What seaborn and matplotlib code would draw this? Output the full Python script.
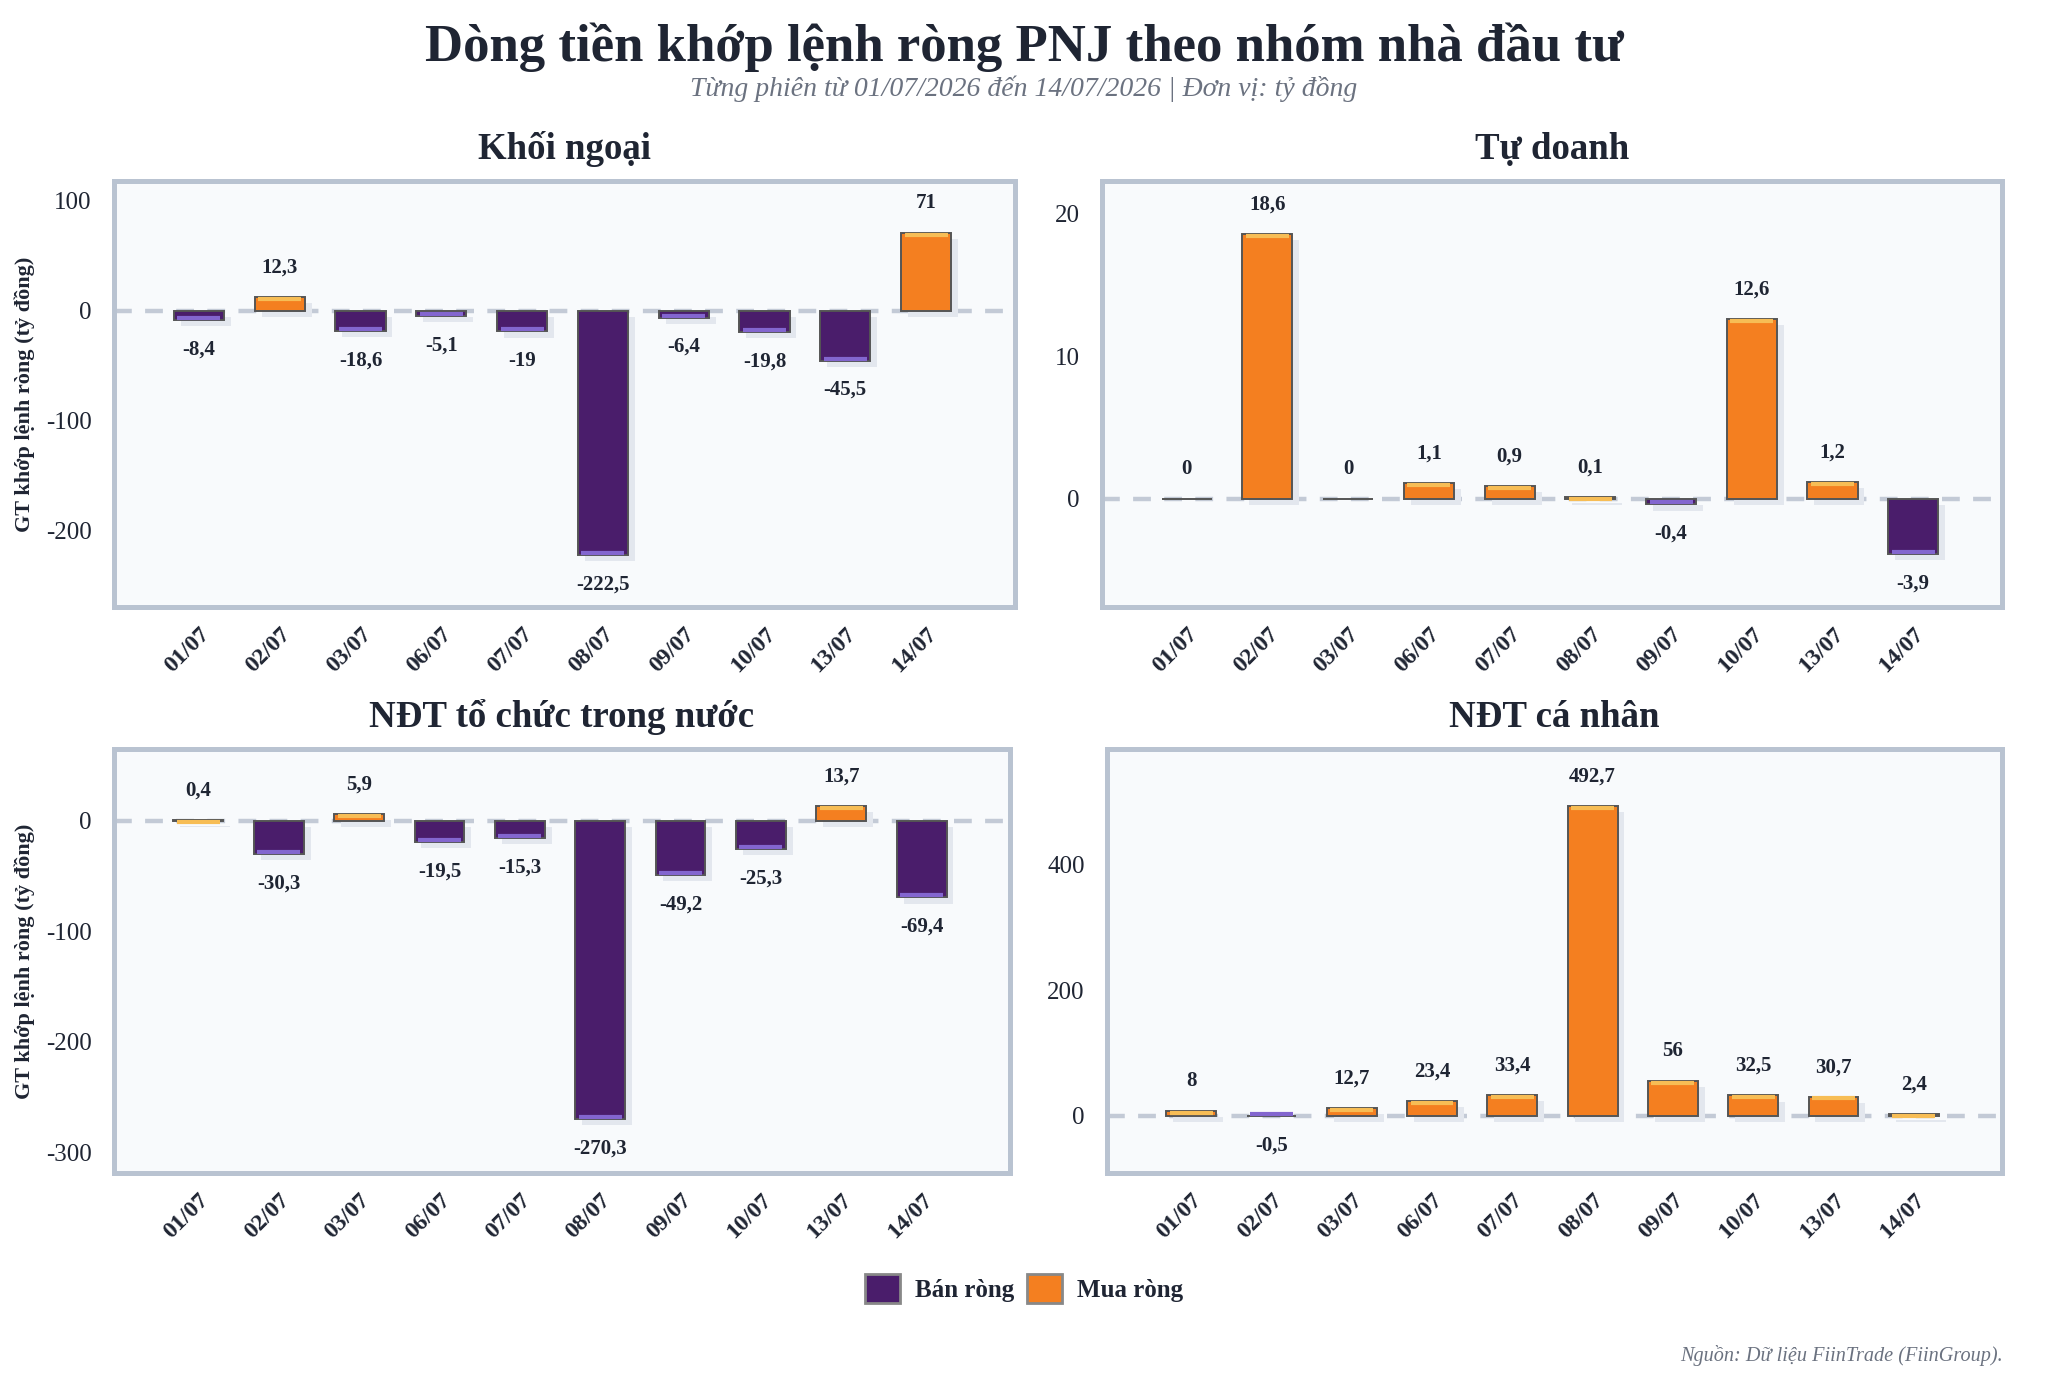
import numpy as np
import pandas as pd
import matplotlib
matplotlib.use("Agg")
import matplotlib.pyplot as plt
import matplotlib.patheffects as pe
import matplotlib.transforms as mtransforms
from matplotlib.patches import Patch
import seaborn as sns

# du lieu
dates = ["01/07", "02/07", "03/07", "06/07", "07/07", "08/07", "09/07", "10/07", "13/07", "14/07"]
khoi_ngoai = [-8.4, 12.3, -18.6, -5.1, -19.0, -222.5, -6.4, -19.8, -45.5, 71.0]
tu_doanh = [0.0, 18.6, 0.0, 1.1, 0.9, 0.1, -0.4, 12.6, 1.2, -3.9]
to_chuc = [0.4, -30.3, 5.9, -19.5, -15.3, -270.3, -49.2, -25.3, 13.7, -69.4]
ca_nhan = [8.0, -0.5, 12.7, 23.4, 33.4, 492.7, 56.0, 32.5, 30.7, 2.4]

panels = ["Khối ngoại", "Tự doanh", "NĐT tổ chức trong nước", "NĐT cá nhân"]
series = [khoi_ngoai, tu_doanh, to_chuc, ca_nhan]
ylims = [(-270, 118), (-7.6, 22.3), (-319, 65), (-91, 584)]
yticks = [[-200, -100, 0, 100], [0, 10, 20], [-300, -200, -100, 0], [0, 200, 400]]

PURPLE = "#4a1d6b"
ORANGE = "#f47f20"
PURPLE_LT = "#8366cf"
ORANGE_LT = "#f7bd55"

sns.set_theme(style="white")
plt.rcParams["font.family"] = ["Liberation Serif", "DejaVu Serif"]
plt.rcParams["axes.unicode_minus"] = False

fig = plt.figure(figsize=(10.24, 6.9), dpi=200)
W, H = 2048, 1380
boxes = [(114, 181, 1015, 607), (1102, 181, 2002, 607),
         (114, 749, 1010, 1173), (1107, 749, 2002, 1173)]


def fmt(v):
    s = f"{v:.1f}".replace(".", ",")
    if s.endswith(",0"):
        s = s[:-2]
    if s == "-0":
        s = "0"
    return s


for i, (name, vals) in enumerate(zip(panels, series)):
    x0, y0, x1, y1 = boxes[i]
    ax = fig.add_axes([x0 / W, 1 - y1 / H, (x1 - x0) / W, (y1 - y0) / H])
    df = pd.DataFrame({"date": dates, "value": vals})
    df["loai"] = np.where(df["value"] < 0, "Bán ròng", "Mua ròng")

    ax.axhline(0, color="#c3cad6", lw=1.6, ls=(0, (4, 3)), zorder=1)
    sns.barplot(data=df, x="date", y="value", hue="loai",
                palette={"Bán ròng": PURPLE, "Mua ròng": ORANGE}, saturation=1,
                hue_order=["Bán ròng", "Mua ròng"], dodge=False, width=0.62,
                edgecolor="#555555", linewidth=0.7, legend=False, ax=ax, zorder=3)

    for p in ax.patches:
        p.set_path_effects([pe.SimplePatchShadow(offset=(2.5, -2.2), shadow_rgbFace="#e3e7ee", alpha=1.0), pe.Normal()])

    # vien sang o dau cot
    for p in ax.patches:
        h = p.get_height()
        if h == 0 or np.isnan(h):
            continue
        xl = p.get_x()
        w = p.get_width()
        col = ORANGE_LT if h > 0 else PURPLE_LT
        off = -0.7 if h > 0 else 0.7
        tr = mtransforms.offset_copy(ax.transData, fig=fig, y=off, units="points")
        ax.plot([xl + w * 0.07, xl + w * 0.93], [h, h], color=col, lw=1.5,
                solid_capstyle="butt", transform=tr, zorder=4)

    for k, v in enumerate(vals):
        if v >= 0:
            ax.annotate(fmt(v), (k, v), xytext=(0, 7), textcoords="offset points",
                        ha="center", va="bottom", fontsize=7.5, fontweight="bold", color="#1f2533")
        else:
            ax.annotate(fmt(v), (k, v), xytext=(0, -7), textcoords="offset points",
                        ha="center", va="top", fontsize=7.5, fontweight="bold", color="#1f2533")

    ax.set_facecolor("#f8fafc")
    for s in ax.spines.values():
        s.set_visible(True)
        s.set_color("#b9c3d1")
        s.set_linewidth(1.8)
    ax.set_ylim(*ylims[i])
    ax.set_xlim(-1.05, 10.1)
    ax.set_yticks(yticks[i])
    ax.tick_params(axis="y", labelsize=9, colors="#1f2533", length=0, pad=8)
    ax.tick_params(axis="x", labelsize=8.5, colors="#1f2533", length=0, pad=6)
    for lab in ax.get_xticklabels():
        lab.set_rotation(45)
        lab.set_ha("right")
        lab.set_rotation_mode("anchor")
        lab.set_fontweight("bold")
    ax.set_xlabel("")
    if i % 2 == 0:
        ax.set_ylabel("GT khớp lệnh ròng (tỷ đồng)", fontsize=8, fontweight="bold", color="#1f2533")
    else:
        ax.set_ylabel("")
    ax.set_title(name, fontsize=13.3, fontweight="bold", color="#1f2533", pad=8)

fig.text(0.5, 0.966, "Dòng tiền khớp lệnh ròng PNJ theo nhóm nhà đầu tư", ha="center", va="center",
         fontsize=19, fontweight="bold", color="#1f2533")
fig.text(0.5, 0.936, "Từng phiên từ 01/07/2026 đến 14/07/2026 | Đơn vị: tỷ đồng", ha="center", va="center",
         fontsize=10, style="italic", color="#6b7280")

handles = [Patch(facecolor=PURPLE, edgecolor="#888888", label="Bán ròng"),
           Patch(facecolor=ORANGE, edgecolor="#888888", label="Mua ròng")]
leg = fig.legend(handles=handles, loc="center", bbox_to_anchor=(0.5, 0.066), ncol=2, frameon=False,
                 prop={"weight": "bold", "size": 9}, handlelength=1.4, handleheight=1.4,
                 columnspacing=0.5, handletextpad=0.6)
for t in leg.get_texts():
    t.set_color("#1f2533")

fig.text(0.978, 0.018, "Nguồn: Dữ liệu FiinTrade (FiinGroup).", ha="right", va="center",
         fontsize=7.3, style="italic", color="#6b7280")

fig.savefig("out.png", dpi=200, facecolor="white")
